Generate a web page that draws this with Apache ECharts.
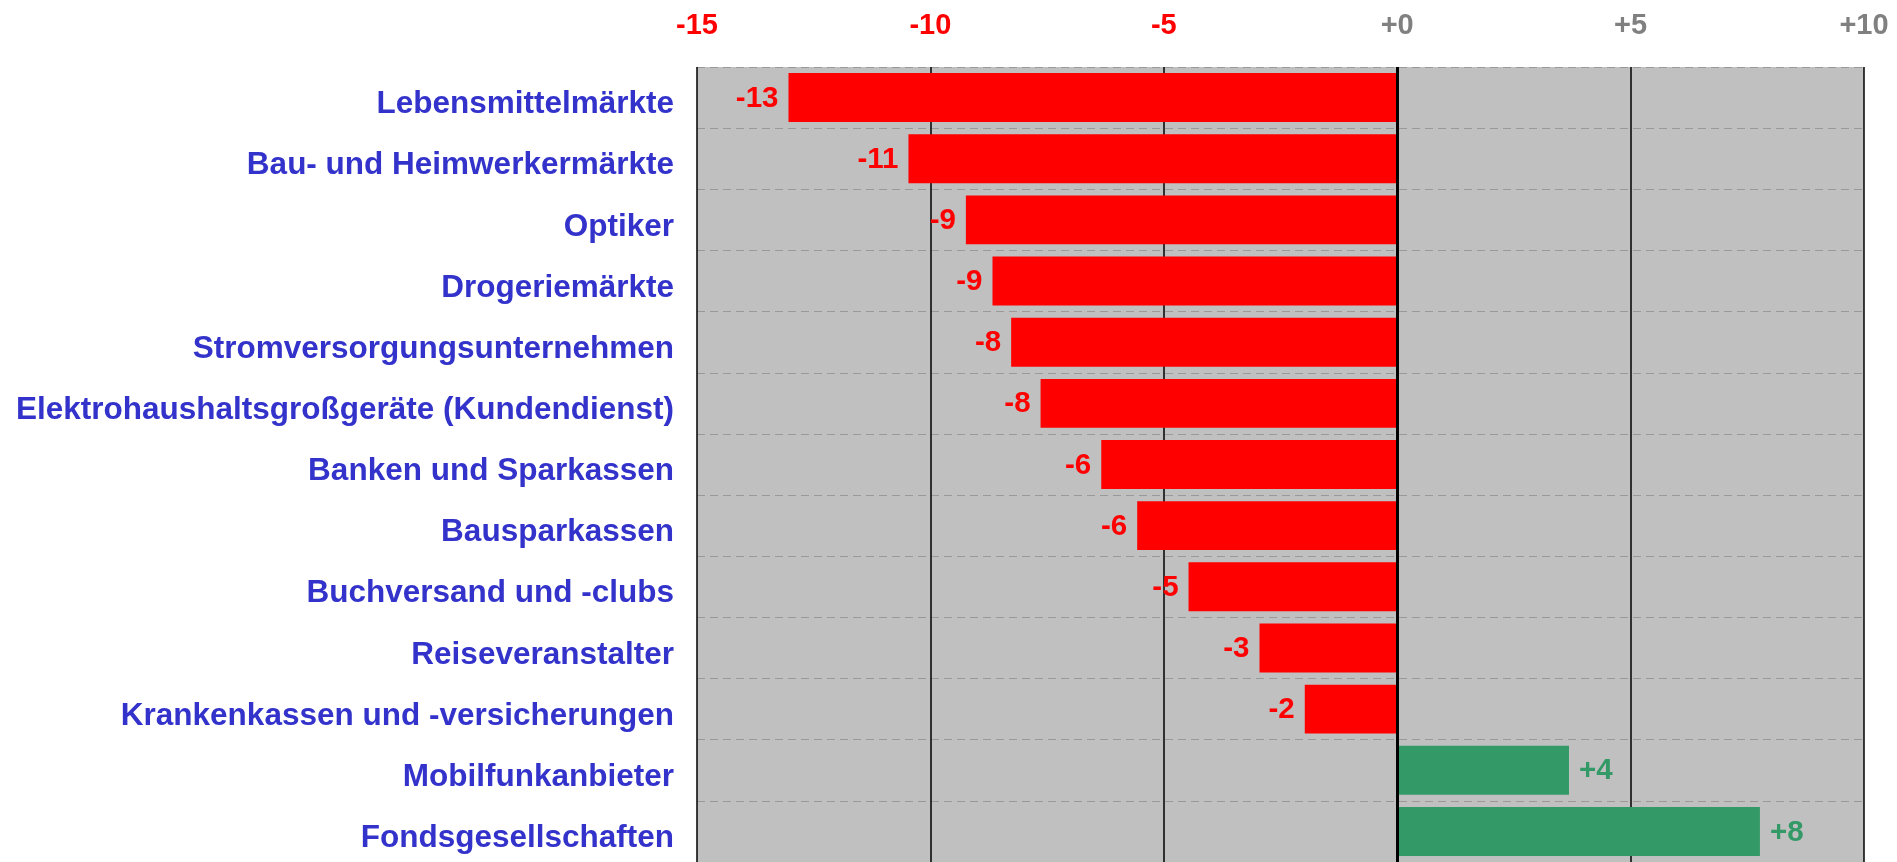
<!DOCTYPE html>
<html>
<head>
<meta charset="utf-8">
<script src="https://cdn.jsdelivr.net/npm/echarts@6/dist/echarts.min.js"></script>
<style>
html,body{margin:0;padding:0;background:#fff;}
#chart{width:1897px;height:862px;}
</style>
</head>
<body>
<div id="chart"></div>
<script>
var categories = [
  'Lebensmittelmärkte',
  'Bau- und Heimwerkermärkte',
  'Optiker',
  'Drogeriemärkte',
  'Stromversorgungsunternehmen',
  'Elektrohaushaltsgroßgeräte (Kundendienst)',
  'Banken und Sparkassen',
  'Bausparkassen',
  'Buchversand und -clubs',
  'Reiseveranstalter',
  'Krankenkassen und -versicherungen',
  'Mobilfunkanbieter',
  'Fondsgesellschaften'
];
var values = [-13.04, -10.47, -9.24, -8.67, -8.27, -7.64, -6.34, -5.57, -4.47, -2.95, -1.98, 3.68, 7.77];
var valueLabels = ['-13', '-11', '-9', '-9', '-8', '-8', '-6', '-6', '-5', '-3', '-2', '+4', '+8'];
var xMin = -15, xMax = 10, xStep = 5;

var RED = '#ff0000', GREEN = '#339966', GRAY = '#808080', BLUE = '#3333cc';
var FONT = '"Liberation Sans", Arial, Helvetica, sans-serif';

var chart = echarts.init(document.getElementById('chart'), null, {renderer: 'canvas'});
chart.setOption({
  animation: false,
  backgroundColor: '#ffffff',
  grid: {
    left: 697, top: 67, width: 1167, height: 800,
    show: true, backgroundColor: '#c0c0c0', borderWidth: 0,
    containLabel: false
  },
  xAxis: {
    type: 'value', position: 'top',
    min: xMin, max: xMax, interval: xStep,
    axisLine: {show: false}, axisTick: {show: false},
    splitLine: {show: true, lineStyle: {color: '#000000', width: 1.5}},
    axisLabel: {
      margin: 27,
      fontFamily: FONT, fontWeight: 'bold', fontSize: 29,
      formatter: function (v) { return v >= 0 ? '+' + v : String(v); },
      color: function (v) { return Number(v) < 0 ? RED : GRAY; }
    }
  },
  yAxis: {
    type: 'category', inverse: true, data: categories,
    axisLine: {show: false}, axisTick: {show: false},
    splitLine: {show: true, lineStyle: {color: '#999999', width: 1, type: [8, 5]}},
    axisLabel: {
      margin: 23, verticalAlign: 'top', lineHeight: 14,
      fontFamily: FONT, fontWeight: 'bold', fontSize: 31.5, color: BLUE
    }
  },
  series: [{
    type: 'bar',
    barWidth: '80%',
    data: values.map(function (v) {
      return {
        value: v,
        itemStyle: {color: v < 0 ? RED : GREEN},
        label: {position: v < 0 ? 'left' : 'right', color: v < 0 ? RED : GREEN}
      };
    }),
    label: {
      show: true,
      fontFamily: FONT, fontWeight: 'bold', fontSize: 29.5,
      distance: 10, offset: [0, 1],
      formatter: function (p) { return valueLabels[p.dataIndex]; }
    },
    markLine: {
      silent: true, symbol: 'none', label: {show: false},
      lineStyle: {color: '#000000', width: 3, type: 'solid'},
      data: [{xAxis: 0}]
    }
  }]
});
</script>
</body>
</html>
